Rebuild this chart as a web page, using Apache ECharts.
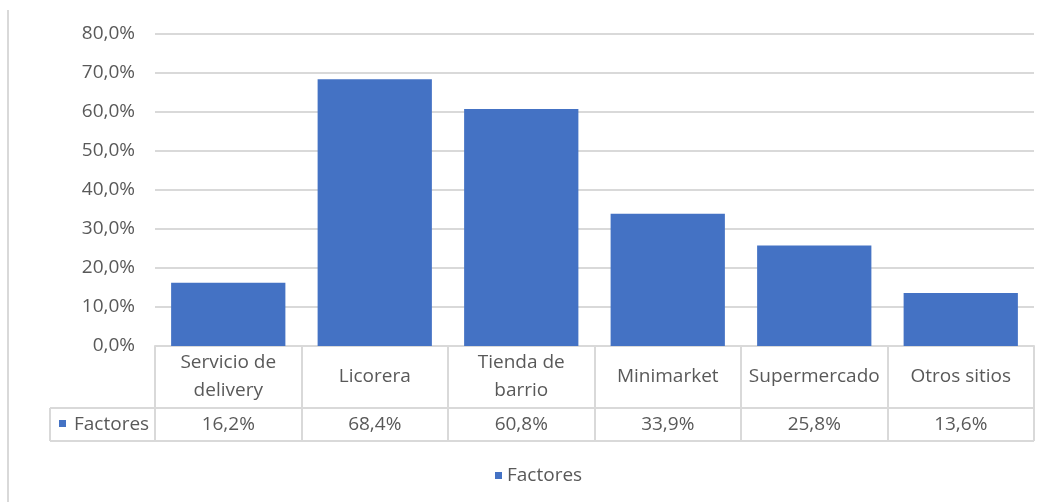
<!DOCTYPE html>
<html><head><meta charset="utf-8">
<script src="https://cdn.jsdelivr.net/npm/echarts@6/dist/echarts.min.js"></script>
<style>html,body{margin:0;padding:0;background:#fff}#c{width:1047px;height:502px}</style>
</head><body><div id="c"></div>
<script>
const categories = ['Servicio de\ndelivery', 'Licorera', 'Tienda de\nbarrio', 'Minimarket', 'Supermercado', 'Otros sitios'];
const values = [16.2, 68.4, 60.8, 33.9, 25.8, 13.6];
const seriesName = 'Factores';
const yTicks = [0, 10, 20, 30, 40, 50, 60, 70, 80];

const FONT = 'Open Sans';
const FS = 19;
const GRAY = '#595959';
const LINE = '#d9d9d9';
const BLUE = '#4472C4';
const fmt = v => v.toFixed(1).replace('.', ',') + '%';

const chart = echarts.init(document.getElementById('c'));
const gl = 155, gr = 13, gt = 34, gb = 156;
const W = 1047, H = 502;
const tableRight = W - gr;
const row1 = H - gb + 62, row2 = H - gb + 95;

chart.setOption({
  animation: false,
  textStyle: { fontFamily: FONT },
  grid: { left: gl, right: gr, top: gt, bottom: gb },
  legend: {
    data: [seriesName], left: 490, top: 461, icon: 'rect', itemWidth: 7, itemHeight: 7, itemGap: 8,
    textStyle: { color: GRAY, fontSize: FS, fontFamily: FONT }
  },
  xAxis: [{
    type: 'category', data: categories, position: 'bottom',
    axisLine: { lineStyle: { color: LINE, width: 2 } },
    axisTick: { show: true, alignWithLabel: false, length: 95, lineStyle: { color: LINE, width: 2 } },
    axisLabel: { color: GRAY, fontSize: FS, fontFamily: FONT, margin: 31, verticalAlign: 'middle', lineHeight: 28, interval: 0 }
  }, {
    type: 'category', data: categories, position: 'bottom',
    axisLine: { show: false }, axisTick: { show: false },
    axisLabel: { color: GRAY, fontSize: FS, fontFamily: FONT, margin: 79, verticalAlign: 'middle', interval: 0,
      formatter: (v, i) => fmt(values[i]) }
  }],
  yAxis: {
    type: 'value', min: yTicks[0], max: yTicks[yTicks.length - 1], interval: 10,
    axisLine: { show: false }, axisTick: { show: false },
    splitLine: { lineStyle: { color: LINE, width: 2 } },
    axisLabel: { color: GRAY, fontSize: FS, fontFamily: FONT, margin: 20, formatter: v => fmt(v) }
  },
  series: [{
    name: seriesName, type: 'bar', data: values, barCategoryGap: '22%',
    itemStyle: { color: BLUE }
  }],
  graphic: [
    { type: 'line', shape: { x1: 8, y1: 10, x2: 8, y2: H }, style: { stroke: LINE, lineWidth: 2 } },
    { type: 'line', shape: { x1: 50, y1: row1, x2: tableRight, y2: row1 }, style: { stroke: LINE, lineWidth: 2 } },
    { type: 'line', shape: { x1: 50, y1: row2, x2: tableRight, y2: row2 }, style: { stroke: LINE, lineWidth: 2 } },
    { type: 'line', shape: { x1: 50, y1: row1, x2: 50, y2: row2 }, style: { stroke: LINE, lineWidth: 2 } },
    { type: 'rect', shape: { x: 59, y: 420, width: 7, height: 7 }, style: { fill: BLUE } },
    { type: 'text', x: 74, y: (row1 + row2) / 2, style: { text: seriesName, fill: GRAY, font: FS + 'px "Open Sans"', verticalAlign: 'middle' } }
  ]
});
</script></body></html>
